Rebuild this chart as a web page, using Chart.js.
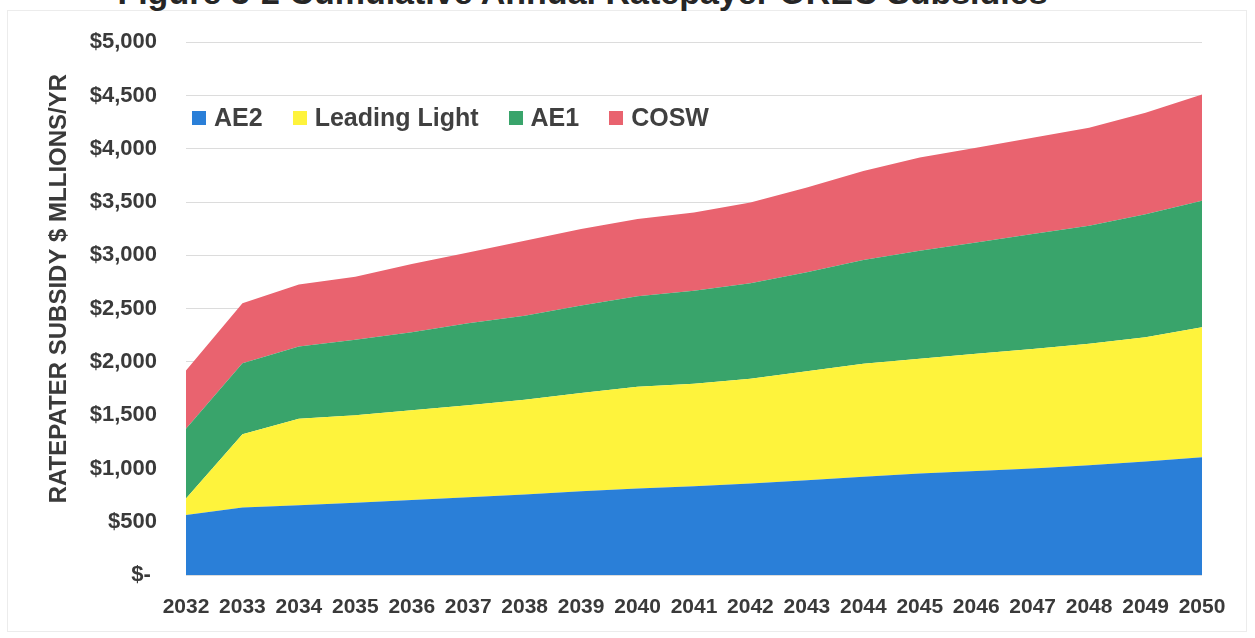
<!DOCTYPE html>
<html>
<head>
<meta charset="utf-8">
<script src="https://cdn.jsdelivr.net/npm/chart.js@4.4.1/dist/chart.umd.min.js"></script>
<style>
  html, body { margin: 0; padding: 0; background: #ffffff; }
  #wrap { position: relative; width: 1255px; height: 638px; overflow: hidden; background: #fff; }
  #frame { position: absolute; left: 7px; top: 10px; width: 1240px; height: 622px; border: 1px solid #ececec; box-sizing: border-box; }
  #fig { position: absolute; top: -27px; left: 0; width: 1165px; text-align: center; font: bold 34px "Liberation Sans", Arial, sans-serif; color: #262626; white-space: nowrap; }
  canvas { position: absolute; left: 0; top: 0; }
  #legend { position: absolute; left: 192px; top: 103px; display: flex; align-items: center; font: bold 25px "Liberation Sans", Arial, sans-serif; color: #404040; }
  #legend .item { display: flex; align-items: center; margin-right: 30px; }
  #legend .box { width: 14px; height: 14px; margin-right: 8px; }
</style>
</head>
<body>
<div id="wrap">
  <div id="frame"></div>
  <div id="fig">Figure 3-2 Cumulative Annual Ratepayer OREC Subsidies</div>
  <canvas id="c" width="1255" height="638"></canvas>
  <div id="legend"></div>
</div>
<script>
const years = ['2032','2033','2034','2035','2036','2037','2038','2039','2040','2041','2042','2043','2044','2045','2046','2047','2048','2049','2050'];
const ae2 =          [562, 634, 655, 677, 705, 730, 755, 785, 811, 833, 858, 889, 922, 952, 977, 999, 1030, 1065, 1105];
const leadingLight = [156, 686, 812, 821, 840, 862, 890, 922, 955, 962, 984, 1024, 1060, 1077, 1099, 1123, 1139, 1166, 1220];
const ae1 =          [655, 668, 677, 709, 733, 770, 789, 821, 851, 873, 895, 927, 975, 1014, 1045, 1077, 1108, 1155, 1186];
const cosw =         [546, 562, 581, 593, 640, 665, 703, 718, 723, 734, 759, 796, 835, 874, 889, 905, 920, 952, 999];
const yTicks = [0, 500, 1000, 1500, 2000, 2500, 3000, 3500, 4000, 4500, 5000];

const seriesNames = ['AE2', 'Leading Light', 'AE1', 'COSW'];
const seriesData = [ae2, leadingLight, ae1, cosw];
const seriesColors = ['#2a7fd8', '#fef33c', '#39a46b', '#e9636f'];

const datasets = seriesNames.map((name, i) => ({
  label: name,
  data: seriesData[i],
  backgroundColor: seriesColors[i],
  borderColor: seriesColors[i],
  borderWidth: 0,
  pointRadius: 0,
  tension: 0,
  fill: i === 0 ? 'origin' : '-1'
}));

// HTML legend
const lg = document.getElementById('legend');
seriesNames.forEach((n, i) => {
  const it = document.createElement('div'); it.className = 'item';
  const b = document.createElement('span'); b.className = 'box'; b.style.background = seriesColors[i];
  const t = document.createElement('span'); t.textContent = n;
  it.appendChild(b); it.appendChild(t); lg.appendChild(it);
});

const tickFont = { family: '"Liberation Sans", Arial, sans-serif', weight: 'bold', size: 21 };

new Chart(document.getElementById('c'), {
  type: 'line',
  data: { labels: years, datasets },
  options: {
    responsive: false,
    animation: false,
    layout: { padding: { left: 0, right: 53, top: 41, bottom: 0 } },
    plugins: { legend: { display: false }, tooltip: { enabled: false } },
    scales: {
      x: {
        offset: false,
        grid: { display: false, drawTicks: false },
        border: { display: false },
        ticks: { color: '#3a3a3a', font: tickFont, padding: 20, maxRotation: 0, autoSkip: false },
        afterFit: s => { s.height = 63; }
      },
      y: {
        stacked: true,
        min: 0, max: 5000,
        afterBuildTicks: s => { s.ticks = yTicks.map(v => ({ value: v })); },
        grid: { color: '#dcdcdc', lineWidth: 1, drawTicks: false },
        border: { display: false },
        ticks: {
          color: '#3a3a3a', font: { ...tickFont, size: 22 }, padding: 29,
          callback: v => v === 0 ? '$-\u00a0' : '$' + v.toLocaleString('en-US')
        },
        title: {
          display: true,
          text: '\u00a0\u00a0\u00a0\u00a0\u00a0\u00a0RATEPATER SUBSIDY $ MLLIONS/YR',
          color: '#3a3a3a',
          font: { family: '"Liberation Sans", Arial, sans-serif', weight: 'bold', size: 24 },
          padding: { top: 45, bottom: 0 }
        },
        afterFit: s => { s.width = 186; }
      }
    }
  }
});
</script>
</body>
</html>
